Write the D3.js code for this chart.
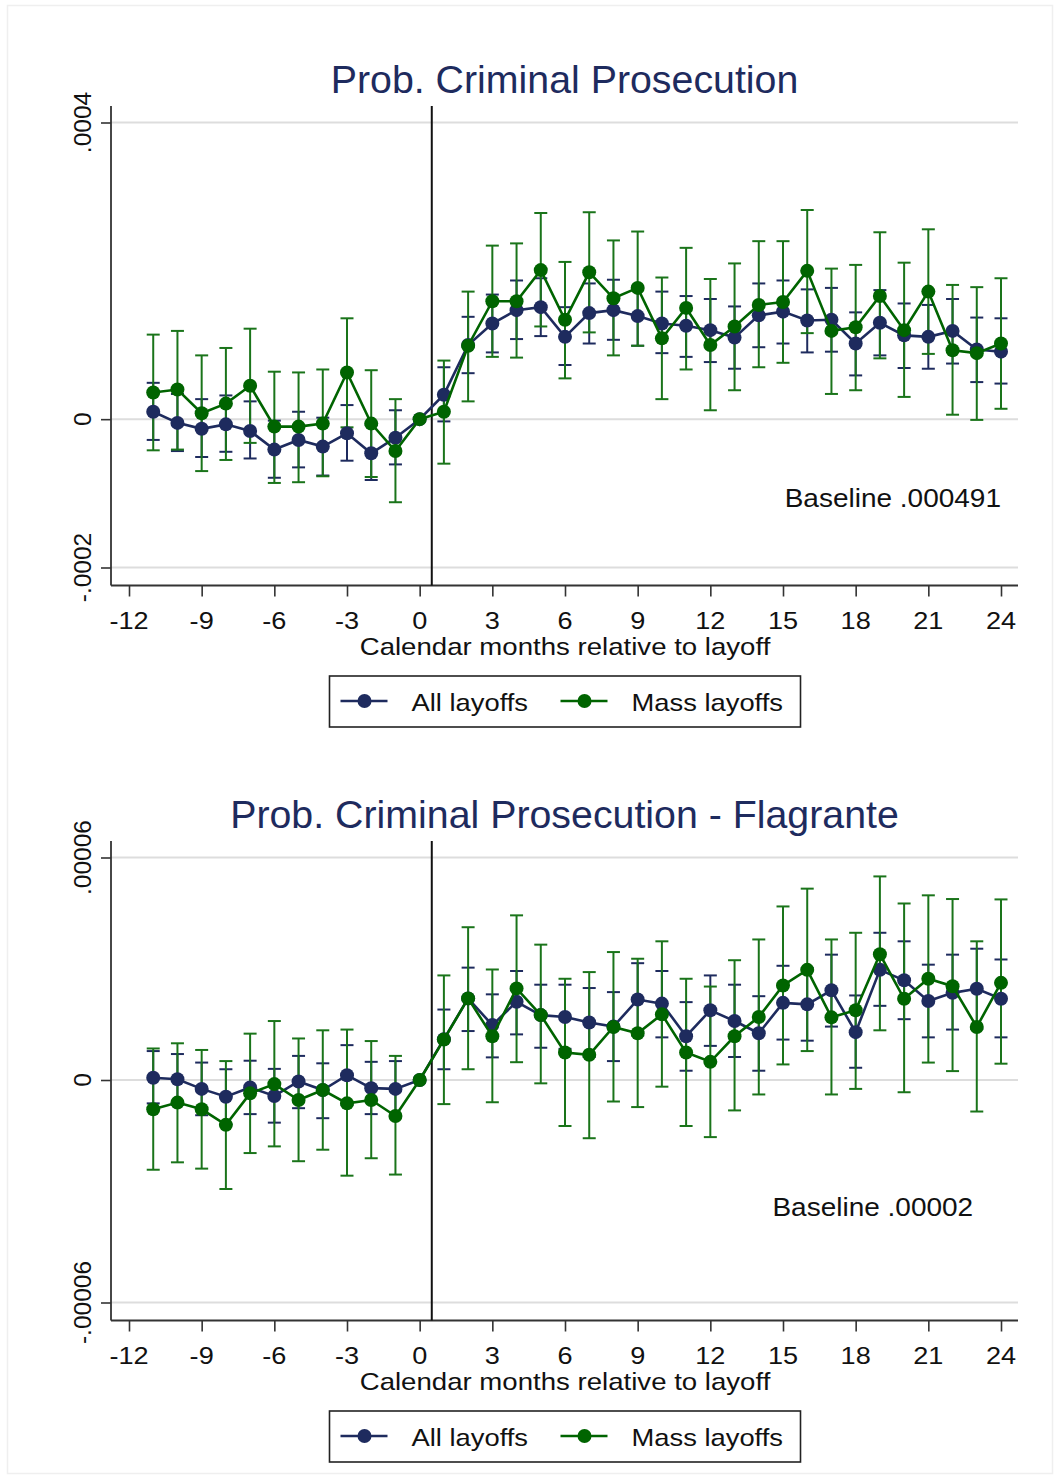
<!DOCTYPE html>
<html>
<head>
<meta charset="utf-8">
<script src="https://cdn.jsdelivr.net/npm/d3@7"></script>
<style>
  body { margin: 0; background: #fff; }
  svg text { font-family: "Liberation Sans", Arial, sans-serif; }
</style>
</head>
<body>
<svg id="chart" width="1061" height="1479"></svg>
<script>
// months relative to layoff
let months = d3.range(-11, 25);
let xTicks = [-12, -9, -6, -3, 0, 3, 6, 9, 12, 15, 18, 21, 24];

// panel 1 (values in units of 1e-4)
let p1AllEst = [0.10,-0.05,-0.13,-0.07,-0.16,-0.41,-0.28,-0.37,-0.19,-0.46,-0.25,0,
  0.33,1.00,1.29,1.47,1.51,1.11,1.43,1.47,1.39,1.29,1.26,1.20,1.10,1.40,1.45,1.33,1.34,1.02,1.30,1.13,1.11,1.19,0.94,0.91];
let p1AllLo = [-0.28,-0.43,-0.51,-0.44,-0.53,-0.79,-0.65,-0.76,-0.56,-0.82,-0.61,0,
  -0.03,0.62,0.90,1.08,1.12,0.73,1.02,1.07,0.99,0.89,0.84,0.77,0.68,0.97,1.02,0.90,0.91,0.59,0.86,0.69,0.68,0.75,0.50,0.48];
let p1AllHi = [0.49,0.34,0.27,0.32,0.24,-0.02,0.10,0.02,0.19,-0.08,0.12,0,
  0.70,1.38,1.68,1.87,1.90,1.51,1.83,1.88,1.79,1.72,1.66,1.62,1.52,1.83,1.87,1.75,1.77,1.44,1.74,1.56,1.54,1.62,1.37,1.36];
let p1MassEst = [0.36,0.40,0.08,0.21,0.45,-0.10,-0.10,-0.06,0.63,-0.06,-0.43,0,
  0.10,0.99,1.59,1.59,2.01,1.34,1.98,1.63,1.77,1.09,1.50,1.00,1.25,1.54,1.58,2.00,1.19,1.24,1.66,1.20,1.72,0.93,0.89,1.02];
let p1MassLo = [-0.42,-0.41,-0.70,-0.55,-0.32,-0.86,-0.85,-0.77,-0.11,-0.78,-1.12,0,
  -0.60,0.24,0.84,0.83,1.25,0.55,1.17,0.86,0.99,0.27,0.67,0.12,0.39,0.70,0.76,1.16,0.34,0.39,0.82,0.30,0.88,0.06,-0.01,0.14];
let p1MassHi = [1.14,1.19,0.86,0.96,1.22,0.64,0.63,0.67,1.36,0.66,0.27,0,
  0.79,1.72,2.34,2.37,2.78,2.12,2.79,2.41,2.53,1.91,2.31,1.89,2.10,2.40,2.40,2.82,2.03,2.08,2.52,2.11,2.56,1.81,1.78,1.90];
let p1YTicks = [-2, 0, 4];
let p1YLabels = ["-.0002", "0", ".0004"];

// panel 2 (values in units of 1e-5)
let p2AllEst = [0.06,0.02,-0.24,-0.45,-0.20,-0.43,-0.04,-0.27,0.13,-0.22,-0.24,0,
  1.10,2.20,1.48,2.11,1.75,1.70,1.55,1.44,2.17,2.06,1.18,1.88,1.59,1.26,2.08,2.04,2.42,1.29,2.97,2.69,2.13,2.35,2.46,2.19];
let p2AllLo = [-0.63,-0.67,-0.95,-1.19,-0.92,-1.15,-0.76,-1.03,-0.67,-0.92,-0.99,0,
  0.29,1.32,0.61,1.23,0.87,0.84,0.62,0.51,1.20,1.15,0.25,0.92,0.62,0.25,1.09,1.06,1.44,0.33,2.00,1.64,1.15,1.36,1.38,1.15];
let p2AllHi = [0.78,0.70,0.47,0.29,0.52,0.30,0.65,0.45,0.94,0.49,0.51,0,
  1.90,3.03,2.31,2.94,2.57,2.57,2.48,2.37,3.15,2.94,2.10,2.82,2.57,2.26,3.08,3.02,3.38,2.28,3.97,3.74,3.11,3.38,3.54,3.25];
let p2MassEst = [-0.79,-0.61,-0.79,-1.21,-0.36,-0.11,-0.54,-0.27,-0.63,-0.54,-0.97,0,
  1.09,2.20,1.18,2.47,1.75,0.74,0.68,1.43,1.26,1.77,0.74,0.49,1.18,1.70,2.55,2.97,1.69,1.88,3.39,2.19,2.73,2.53,1.43,2.62];
let p2MassLo = [-2.42,-2.22,-2.39,-2.94,-1.97,-1.79,-2.19,-1.88,-2.58,-2.11,-2.55,0,
  -0.65,0.29,-0.60,0.48,-0.09,-1.24,-1.57,-0.58,-0.73,-0.18,-1.24,-1.54,-0.82,-0.39,0.42,0.78,-0.39,-0.24,1.34,-0.33,0.47,0.24,-0.85,0.44];
let p2MassHi = [0.85,0.99,0.81,0.51,1.25,1.59,1.12,1.34,1.36,1.05,0.65,0,
  2.82,4.12,2.98,4.44,3.65,2.73,2.91,3.45,3.27,3.74,2.73,2.52,3.23,3.79,4.68,5.16,3.79,3.97,5.49,4.76,4.98,4.88,3.74,4.87];
let p2YTicks = [-6, 0, 6];
let p2YLabels = ["-.00006", "0", ".00006"];

let navy = "#1e2b5e";
let green = "#006400";
let greenBar = "#1a741a";

let svg = d3.select("#chart");

// faint frame around the figure
svg.append("rect").attr("x", 7.5).attr("y", 5.5).attr("width", 1045).attr("height", 1468)
  .attr("fill", "none").attr("stroke", "#efefef").attr("stroke-width", 1.5);

// text helper, glyphs in the picture are a bit wide
function addText(parent, x, y, str, size, anchor, color, sx){
  parent.append("g")
    .attr("transform", `translate(${x},${y}) scale(${sx},1)`)
    .append("text")
    .text(str)
    .attr("font-size", size)
    .attr("text-anchor", anchor)
    .attr("fill", color);
}

function drawPanel(cfg){
  let left = 111, right = 1018;
  let top = cfg.top, bottom = cfg.top + 479.5;
  let g = svg.append("g");

  let x = d3.scaleLinear().domain([-12, 24]).range([129, 1001]);
  let y = d3.scaleLinear().domain([cfg.yTicks[0], cfg.yTicks[cfg.yTicks.length - 1]])
    .range([bottom - 18, top + 16.5]);

  // title
  addText(g, 564.5, top - 13, cfg.title, 38, "middle", navy, 1.035);

  // grid lines
  g.selectAll(".grid").data(cfg.yTicks).enter().append("line")
    .attr("x1", left).attr("x2", right)
    .attr("y1", d => y(d)).attr("y2", d => y(d))
    .attr("stroke", "#dddddd").attr("stroke-width", 2);

  // y axis
  let yAxis = g.append("g").attr("transform", `translate(${left},0)`)
    .call(d3.axisLeft(y).tickValues(cfg.yTicks).tickSize(10).tickFormat(""));
  yAxis.select(".domain").remove();
  yAxis.selectAll("line").attr("stroke", "#333").attr("stroke-width", 1.6);
  cfg.yTicks.forEach((t, i) => {
    g.append("text").text(cfg.yLabels[i])
      .attr("transform", `translate(91,${y(t)}) rotate(-90)`)
      .attr("text-anchor", "middle")
      .attr("font-size", 24.5)
      .attr("fill", "#111");
  });

  // x axis
  let xAxis = g.append("g").attr("transform", `translate(0,${bottom})`)
    .call(d3.axisBottom(x).tickValues(xTicks).tickSize(11).tickFormat(""));
  xAxis.select(".domain").remove();
  xAxis.selectAll("line").attr("stroke", "#333").attr("stroke-width", 1.6);
  xTicks.forEach(t => addText(g, x(t), bottom + 43.5, t, 24, "middle", "#111", 1.13));
  addText(g, 565, bottom + 69.5, "Calendar months relative to layoff", 24, "middle", "#111", 1.15);

  // axis lines
  g.append("line").attr("x1", left).attr("x2", left).attr("y1", top).attr("y2", bottom)
    .attr("stroke", "#333").attr("stroke-width", 1.8);
  g.append("line").attr("x1", left).attr("x2", right).attr("y1", bottom).attr("y2", bottom)
    .attr("stroke", "#333").attr("stroke-width", 1.8);

  // layoff line between month 0 and 1
  g.append("line").attr("x1", x(0.5)).attr("x2", x(0.5)).attr("y1", top).attr("y2", bottom)
    .attr("stroke", "#111").attr("stroke-width", 2);

  let series = [
    {est: cfg.allEst, lo: cfg.allLo, hi: cfg.allHi, color: navy, bar: navy},
    {est: cfg.massEst, lo: cfg.massLo, hi: cfg.massHi, color: green, bar: greenBar}
  ];

  // confidence intervals first
  series.forEach(s => {
    let rows = months.map((m, i) => ({m: m, lo: s.lo[i], hi: s.hi[i]})).filter(d => d.lo != d.hi);
    let bars = g.append("g");
    bars.selectAll(".v").data(rows).enter().append("line")
      .attr("x1", d => x(d.m)).attr("x2", d => x(d.m))
      .attr("y1", d => y(d.lo)).attr("y2", d => y(d.hi))
      .attr("stroke", s.bar).attr("stroke-width", 2);
    ["lo", "hi"].forEach(k => {
      bars.selectAll(".c" + k).data(rows).enter().append("line")
        .attr("x1", d => x(d.m) - 6.5).attr("x2", d => x(d.m) + 6.5)
        .attr("y1", d => y(d[k])).attr("y2", d => y(d[k]))
        .attr("stroke", s.bar).attr("stroke-width", 2);
    });
  });

  // connected points
  series.forEach(s => {
    let pts = months.map((m, i) => [m, s.est[i]]);
    g.append("path").datum(pts)
      .attr("d", d3.line().x(d => x(d[0])).y(d => y(d[1])))
      .attr("fill", "none").attr("stroke", s.color).attr("stroke-width", 2.6);
    g.selectAll(null).data(pts).enter().append("circle")
      .attr("cx", d => x(d[0])).attr("cy", d => y(d[1])).attr("r", 7)
      .attr("fill", s.color);
  });

  // baseline note
  addText(g, x(cfg.noteX), y(cfg.noteY), cfg.note, 25, "end", "#111", 1.12);

  // legend
  let lx = 329.5, ly = bottom + 90.5;
  g.append("rect").attr("x", lx).attr("y", ly).attr("width", 471).attr("height", 51)
    .attr("fill", "#fff").attr("stroke", "#222").attr("stroke-width", 1.6);
  let items = [{name: "All layoffs", color: navy, off: 11}, {name: "Mass layoffs", color: green, off: 231}];
  items.forEach(it => {
    g.append("line").attr("x1", lx + it.off).attr("x2", lx + it.off + 47)
      .attr("y1", ly + 25).attr("y2", ly + 25)
      .attr("stroke", it.color).attr("stroke-width", 2.5);
    g.append("circle").attr("cx", lx + it.off + 24).attr("cy", ly + 25).attr("r", 7)
      .attr("fill", it.color);
    addText(g, lx + it.off + 71, ly + 35, it.name, 24, "start", "#111", 1.14);
  });
}

drawPanel({
  title: "Prob. Criminal Prosecution", top: 106,
  yTicks: p1YTicks, yLabels: p1YLabels,
  allEst: p1AllEst, allLo: p1AllLo, allHi: p1AllHi,
  massEst: p1MassEst, massLo: p1MassLo, massHi: p1MassHi,
  note: "Baseline .000491", noteX: 24, noteY: -1.19
});

drawPanel({
  title: "Prob. Criminal Prosecution - Flagrante", top: 841,
  yTicks: p2YTicks, yLabels: p2YLabels,
  allEst: p2AllEst, allLo: p2AllLo, allHi: p2AllHi,
  massEst: p2MassEst, massLo: p2MassLo, massHi: p2MassHi,
  note: "Baseline .00002", noteX: 22.85, noteY: -3.68
});
</script>
</body>
</html>
